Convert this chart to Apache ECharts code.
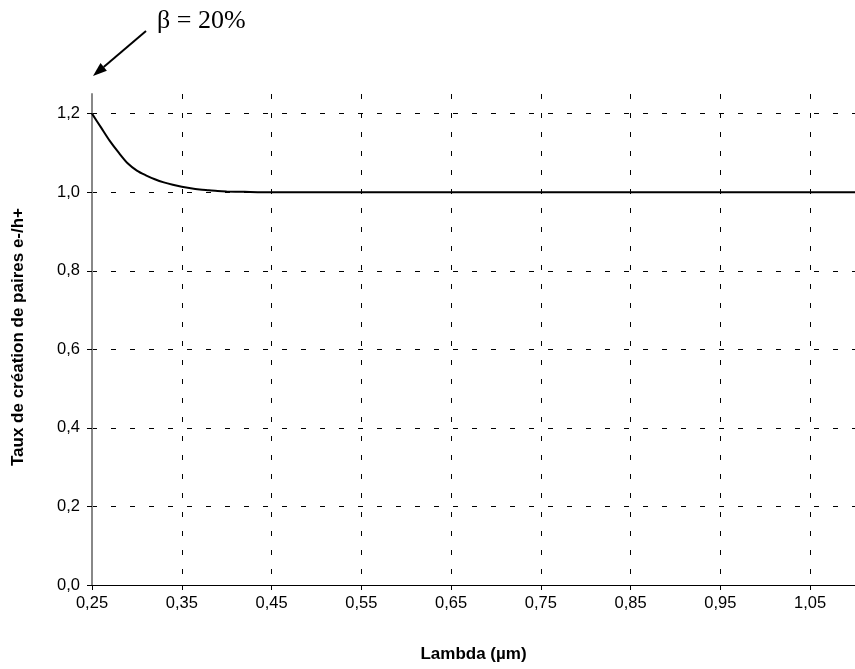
<!DOCTYPE html>
<html>
<head>
<meta charset="utf-8">
<script src="https://cdn.jsdelivr.net/npm/echarts@6/dist/echarts.min.js"></script>
<style>
html,body{margin:0;padding:0;background:#fff;}
#chart{width:855px;height:669px;}
</style>
</head>
<body>
<div id="chart"></div>
<script>
// ---- data ----
const lambda = [0.25,0.26,0.27,0.28,0.29,0.30,0.31,0.32,0.33,0.34,0.35,0.36,0.37,0.38,0.39,0.40,0.42,0.44,0.50,0.60,0.70,0.80,0.90,1.00,1.10];
const taux   = [1.200,1.165,1.130,1.100,1.073,1.055,1.043,1.033,1.025,1.019,1.014,1.010,1.007,1.005,1.003,1.002,1.001,1.000,1.000,1.000,1.000,1.000,1.000,1.000,1.000];
const xTicks = [0.25,0.35,0.45,0.55,0.65,0.75,0.85,0.95,1.05];
const yTicks = [0,0.2,0.4,0.6,0.8,1.0,1.2];
const xTitle = 'Lambda (µm)';
const yTitle = 'Taux de création de paires e-/h+';
const annotation = 'β = 20%';

const FONT = '"Liberation Sans", Arial, sans-serif';
const chart = echarts.init(document.getElementById('chart'), null, {renderer:'canvas'});
const fmt = d => v => v.toFixed(d).replace('.', ',');

chart.setOption({
  animation:false,
  backgroundColor:'#fff',
  grid:{left:92, right:-5, top:94, bottom:84, containLabel:false},
  xAxis:{
    type:'value', min:0.25, max:1.10,
    name:xTitle, nameLocation:'middle', nameGap:61,
    nameTextStyle:{fontFamily:FONT, fontWeight:'bold', fontSize:17, color:'#000'},
    axisLine:{show:true, onZero:false, lineStyle:{color:'#000', width:1}},
    axisTick:{show:true, inside:false, length:5, customValues:xTicks, lineStyle:{color:'#000'}},
    axisLabel:{customValues:xTicks, formatter:fmt(2), fontFamily:FONT, fontSize:16.5, color:'#000', margin:10},
    splitLine:{show:true, lineStyle:{color:'#000', type:[5,14], width:1}}
  },
  yAxis:{
    type:'value', min:0, max:1.25,
    axisLine:{show:true, onZero:false, lineStyle:{color:'#888', width:2}},
    axisTick:{show:true, inside:false, length:5, customValues:yTicks, lineStyle:{color:'#000'}},
    axisLabel:{customValues:yTicks, formatter:fmt(1), fontFamily:FONT, fontSize:16.5, color:'#000', margin:12},
    splitLine:{show:true, lineStyle:{color:'#000', type:[5,14], width:1}}
  },
  series:[{
    type:'line',
    data:lambda.map((x,i)=>[x,taux[i]]),
    showSymbol:false, smooth:0.3,
    lineStyle:{color:'#000', width:2},
    z:5
  }],
  graphic:[
    {type:'text', x:18, y:337, rotation:Math.PI/2,
     style:{text:yTitle, font:'bold 17px '+FONT, fill:'#000', textAlign:'center', textVerticalAlign:'middle'}},
    {type:'text', x:157, y:21,
     style:{text:annotation, font:'26px "Liberation Serif", "Times New Roman", serif', fill:'#000', textAlign:'left', textVerticalAlign:'middle'}},
    {type:'line', shape:{x1:146, y1:31, x2:103.7, y2:66.9}, style:{stroke:'#000', lineWidth:2}},
    {type:'polygon', shape:{points:[[93,76],[106.9,70.7],[100.5,63.1]]}, style:{fill:'#000'}}
  ]
});
</script>
</body>
</html>
